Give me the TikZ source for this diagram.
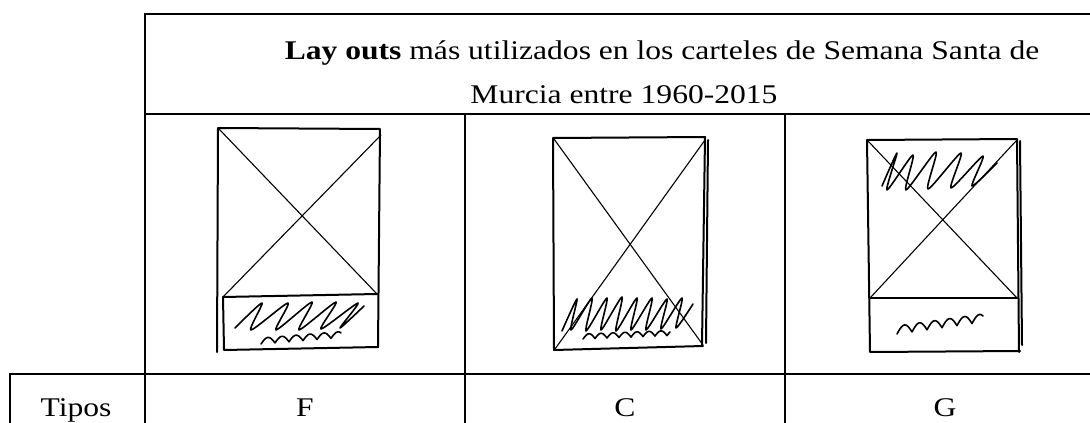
\documentclass[tikz,border=0pt]{standalone}
\usepackage{fontspec}
\setmainfont{Liberation Serif}
\usetikzlibrary{positioning,calc}

\newcommand{\wide}[1]{\scalebox{1.17}[1]{#1}}

\begin{document}
\begin{tikzpicture}[x=1pt,y=-1pt,
    tbl/.style={line width=1.7pt},
    sketch/.style={line width=2pt,line cap=round,line join=round},
    diag/.style={line width=1.1pt,line cap=round},
    scribble/.style={line width=1.6pt,line cap=round,line join=round},
    txt/.style={inner sep=0pt,anchor=base,font=\fontsize{27}{33}\selectfont}]
    \useasboundingbox (0,0) rectangle (1090,423);
    % table grid
    \draw[tbl] (145,430) -- (145,14) -- (1095,14);
    \draw[tbl] (145,114) -- (1095,114);
    \draw[tbl] (10,430) -- (10,374) -- (1095,374);
    \draw[tbl] (465,114) -- (465,430);
    \draw[tbl] (785,114) -- (785,430);
    % header text
    \node[txt] (title1) at (662,59) {\wide{\textbf{Lay outs} más utilizados en los carteles de Semana Santa de}};
    \node[txt] (title2) at (624,103) {\wide{Murcia entre 1960-2015}};
    % bottom row
    \node[txt] (tipos) at (76,416) {\wide{Tipos}};
    \node[txt] (tipoF) at (305,416) {\wide{F}};
    \node[txt] (tipoC) at (625,416) {\wide{C}};
    \node[txt] (tipoG) at (945,416) {\wide{G}};

    % layout F: text block at the foot
    \draw[sketch] (218,128) -- (380,129) -- (378,347);
    \draw[sketch] (218,128) -- (217,352);
    \draw[sketch] (223,297) -- (224,350) -- (378,347);
    \draw[sketch] (223,297) -- (377,294);
    \draw[diag] (219,129) -- (377,294);
    \draw[diag] (381,135) -- (223,297);
    \draw[scribble] plot[smooth,tension=0.45] coordinates {(235,328) (262,303) (251,330) (288,303) (276,330) (312,302) (299,330) (336,302) (321,329) (358,303) (340,328) (364,306)};
    \draw[scribble] plot[domain=0:80,samples=81,smooth] ({261+\x},{344-0.08*\x-6*abs(sin(\x*180/14))});

    % layout C: text over the image
    \draw[sketch] (553,138) -- (705,137) -- (702,345);
    \draw[sketch] (708,140) -- (706,343);
    \draw[sketch] (553,138) -- (554,350) -- (703,346);
    \draw[diag] (554,139) -- (703,345);
    \draw[diag] (705,140) -- (555,349);
    \draw[scribble] plot[smooth,tension=0.45] coordinates {(562,331) (577,299) (571,330) (592,298) (586,331) (607,298) (601,330) (622,297) (616,331) (637,298) (631,330) (652,298) (646,330) (667,299) (661,329) (682,298) (676,328) (693,304)};
    \draw[scribble] plot[domain=0:87,samples=88,smooth] ({583+\x},{339-0.04*\x-5*abs(sin(\x*180/12))});

    % layout G: title on top, block below
    \draw[sketch] (867,140) -- (1017,139) -- (1019,352);
    \draw[sketch] (1020,141) -- (1022,345);
    \draw[sketch] (867,140) -- (870,352) -- (1020,351);
    \draw[sketch] (870,298) -- (1017,298);
    \draw[diag] (868,141) -- (1017,298);
    \draw[diag] (1016,141) -- (870,298);
    \draw[scribble] plot[smooth,tension=0.45] coordinates {(882,186) (897,153) (887,190) (913,155) (906,190) (936,152) (928,189) (961,153) (951,188) (983,156) (972,186) (997,163)};
    \draw[scribble] plot[domain=0:86,samples=87,smooth] ({897+\x},{334-0.14*\x-8*abs(sin(\x*180/15))});
\end{tikzpicture}
\end{document}
